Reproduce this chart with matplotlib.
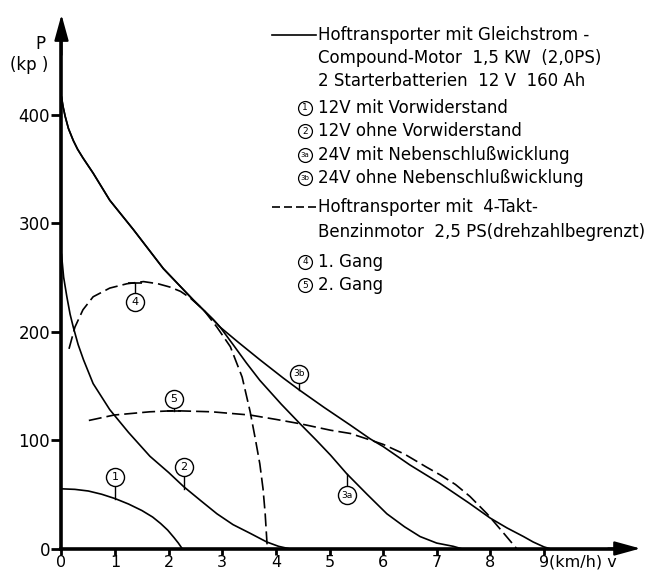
import matplotlib
matplotlib.use('Agg')
import matplotlib.pyplot as plt
from matplotlib.lines import Line2D

W, H = 653, 575

# Zugkraft P (kp) ueber Geschwindigkeit v (km/h)
# 1: 12V mit Vorwiderstand
v1 = [0, 0.25, 0.5, 0.75, 1.0, 1.25, 1.5, 1.7, 1.85, 1.98, 2.1, 2.18, 2.25]
p1 = [55, 54.5, 53, 50, 46, 41, 35, 29, 23, 17, 10, 5, 0]

# 2: 12V ohne Vorwiderstand
v2 = [0, 0.04, 0.1, 0.16, 0.22, 0.31, 0.41, 0.59, 0.9, 1.25, 1.65, 2.0, 2.28, 2.6, 2.9, 3.2, 3.52, 3.83, 4.05, 4.23]
p2 = [271, 250, 232, 216, 204, 188, 174, 152, 128, 107, 85, 70, 57, 44, 32, 22, 14, 6, 2, 0]

# gemeinsamer Teil von 3a / 3b
v3 = [0, 0.03, 0.07, 0.13, 0.22, 0.30, 0.40, 0.59, 0.90, 1.34, 1.90, 2.46, 2.83, 2.96]
p3 = [416, 407, 398, 387, 376, 368, 360, 346, 321, 294, 258, 229, 211, 204]

# 3a: 24V mit Nebenschlusswicklung
v3a = v3 + [3.2, 3.45, 3.7, 4.1, 4.45, 4.75, 5.02, 5.32, 5.7, 6.07, 6.4, 6.69, 7.0, 7.31, 7.45]
p3a = p3 + [188, 171, 155, 133, 115, 100, 86, 69, 50, 32, 20, 11, 5, 2, 0]

# 3b: 24V ohne Nebenschlusswicklung
v3b = v3 + [3.3, 3.7, 4.14, 4.44, 4.9, 5.38, 5.76, 6.0, 6.5, 7.06, 7.6, 8.0, 8.31, 8.62, 8.8, 9.0, 9.1]
p3b = p3 + [190, 174, 157, 146, 130, 114, 101, 94, 77, 60, 42, 28, 19, 11, 6, 1.5, 0]

# 4: Benzinmotor 1. Gang
v4 = [0.14, 0.25, 0.4, 0.59, 0.9, 1.22, 1.53, 1.8, 2.02, 2.22, 2.40, 2.65, 2.9, 3.15, 3.37, 3.52, 3.62, 3.70, 3.76, 3.80, 3.84]
p4 = [184, 204, 220, 232, 240, 244, 246, 244, 241, 237, 231, 220, 204, 186, 158, 126, 100, 78, 55, 32, 0]

# 5: Benzinmotor 2. Gang
v5 = [0.51, 0.98, 1.65, 2.1, 2.8, 3.52, 4.0, 4.45, 5.02, 5.39, 5.76, 6.0, 6.4, 6.81, 7.06, 7.35, 7.62, 7.94, 8.2, 8.49]
p5 = [118, 123, 126, 127, 126, 123, 119, 115, 109, 106, 100, 96, 87, 75, 68, 59, 48, 32, 17, 0]

# Kurvenbeschriftungen: Name, Kreis (v, P), Anschlusspunkt an der Kurve
mark_names = ['1', '2', '3a', '3b', '4', '5']
mark_v = [1.0, 2.28, 5.33, 4.44, 1.37, 2.1]
mark_p = [66, 75, 49, 161, 227, 138]
mark_curve_p = [46, 55, 69, 146, 245, 127]
mark_bar = [False, False, False, False, True, True]

x_ticks = list(range(10))
y_ticks = [0, 100, 200, 300, 400]

legend_text = [
    'Hoftransporter mit Gleichstrom -',
    'Compound-Motor  1,5 KW  (2,0PS)',
    '2 Starterbatterien  12 V  160 Ah',
    '12V mit Vorwiderstand',
    '12V ohne Vorwiderstand',
    '24V mit Nebenschlußwicklung',
    '24V ohne Nebenschlußwicklung',
    'Hoftransporter mit  4-Takt-',
    'Benzinmotor  2,5 PS(drehzahlbegrenzt)',
    '1. Gang',
    '2. Gang',
]
legend_key = ['-', '', '', '1', '2', '3a', '3b', '--', '', '4', '5']
legend_y = [35, 58, 81, 108, 131, 155, 178, 207, 232, 262, 285]

LW = 1.2
DASH = (7.8, 3.0)

fig = plt.figure(figsize=(W / 100, H / 100), dpi=100)
ax = fig.add_axes([0, 0, 1, 1])

# Pixel -> Daten: x_px = 61.5 + 53.6 v, y_px = 548.5 - 1.085 P
ax.set_xlim(-61.5 / 53.6, (W - 61.5) / 53.6)
ax.set_ylim((548.5 - H) / 1.085, 548.5 / 1.085)

ax.plot(v1, p1, color='k', lw=LW)
ax.plot(v2, p2, color='k', lw=LW)
ax.plot(v3a, p3a, color='k', lw=LW)
ax.plot(v3b, p3b, color='k', lw=LW)
ax.plot(v4, p4, color='k', lw=LW, dashes=DASH)
ax.plot(v5, p5, color='k', lw=LW, dashes=DASH)

for name, mv, mp, cp, bar in zip(mark_names, mark_v, mark_p, mark_curve_p, mark_bar):
    ax.plot([mv, mv], [cp, mp], color='k', lw=1.0, zorder=3)
    if bar:
        ax.plot(mv, cp, marker='_', ms=9.5, mew=1.2, color='k', zorder=3)
    ax.plot(mv, mp, marker='o', ms=13, mfc='white', mec='k', mew=1.0, zorder=4)
    ax.text(mv, mp, name, ha='center', va='center', fontsize=8 if len(name) == 1 else 6.5, zorder=5)

# Achsen
for s in ['top', 'right']:
    ax.spines[s].set_visible(False)
ax.spines['left'].set_position(('data', 0))
ax.spines['bottom'].set_position(('data', 0))
ax.spines['left'].set_bounds(0, 475)
ax.spines['bottom'].set_bounds(0, 10.5)
ax.spines['left'].set_linewidth(2.6)
ax.spines['bottom'].set_linewidth(2.6)
ax.set_xticks(x_ticks)
ax.set_xticklabels([str(t) for t in x_ticks])
ax.set_yticks(y_ticks)
ax.set_yticklabels([str(t) for t in y_ticks])
ax.tick_params(axis='x', direction='out', length=4.5, width=2, pad=0.3, labelsize=11.5)
ax.tick_params(axis='y', direction='out', length=7.2, width=2, pad=1, labelsize=12)

arrow = dict(arrowstyle='-|>,head_length=0.8,head_width=0.22', mutation_scale=20,
             lw=1.5, color='k', shrinkA=0, shrinkB=0)
ax.annotate('', xy=(0, 492), xytext=(0, 455), arrowprops=arrow)
ax.annotate('', xy=(10.8, 0), xytext=(10.2, 0), arrowprops=arrow)

ax.text(9.1, (548.5 - 562) / 1.085, '(km/h) v', ha='left', va='center', fontsize=11.5)
fig.text(40 / W, 1 - 44 / H, 'P', ha='center', va='center', fontsize=12)
fig.text(29 / W, 1 - 65 / H, '(kp )', ha='center', va='center', fontsize=12)

# Legende
for txt, key, ly in zip(legend_text, legend_key, legend_y):
    fy = 1 - ly / H
    fig.text(318 / W, fy, txt, ha='left', va='center', fontsize=12)
    if key in ('-', '--'):
        ln = Line2D([272 / W, 316 / W], [fy, fy], transform=fig.transFigure,
                    color='k', lw=LW)
        if key == '--':
            ln.set_dashes((4.8, 2.4))
        fig.add_artist(ln)
    elif key:
        fig.add_artist(Line2D([305 / W], [fy], transform=fig.transFigure, marker='o',
                              ms=10, mfc='white', mec='k', mew=0.9))
        fig.text(305 / W, fy, key, ha='center', va='center',
                 fontsize=6.5 if len(key) == 1 else 5)

fig.savefig('out.png', dpi=100)
